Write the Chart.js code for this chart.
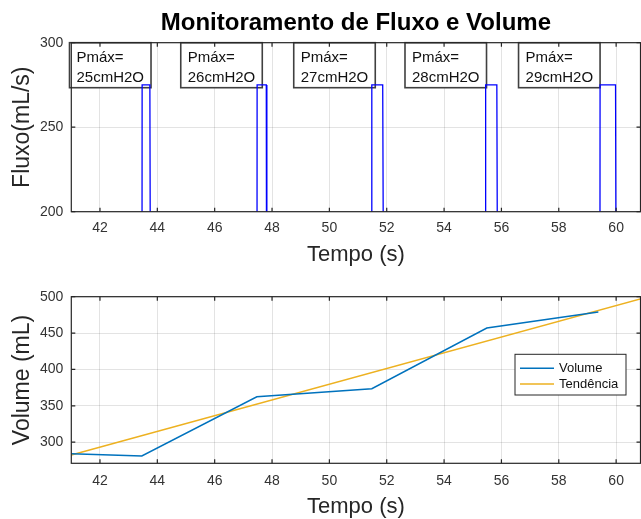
<!DOCTYPE html>
<html>
<head>
<meta charset="utf-8">
<script src="https://cdn.jsdelivr.net/npm/chart.js@4.4.0/dist/chart.umd.min.js"></script>
<style>
  body { margin: 0; background: #fff; }
  #wrap { position: relative; width: 641px; height: 519px; }
  #c1 { position: absolute; left: 0; top: 0; }
  #c2 { position: absolute; left: 0; top: 272px; }
</style>
</head>
<body>
<div id="wrap">
  <div id="c1" style="width:641px;height:272px"><canvas id="fluxo"></canvas></div>
  <div id="c2" style="width:641px;height:247px"><canvas id="volume"></canvas></div>
</div>
<script>
// dados
const flowTime  = [41, 43.46, 43.47, 43.74, 43.78, 47.47, 47.48, 47.80, 47.82, 51.47, 51.48, 51.86, 51.92, 55.44, 55.45, 55.84, 55.89, 59.43, 59.44, 59.98, 60.02, 60.85];
const flowValue = [0, 0, 275, 275, 0, 0, 275, 275, 0, 0, 275, 275, 0, 0, 275, 275, 0, 0, 275, 275, 0, 0];

const pmax   = [25, 26, 27, 28, 29];
const pmaxAt = [43.78, 47.66, 51.6, 55.48, 59.44];

const volTime  = [41, 43.46, 47.47, 51.48, 55.49, 59.38];
const volValue = [284, 281, 362.5, 373.5, 457, 479];

const trendTime  = [41, 61];
const trendValue = [282.5, 498.5];

const xTicks = [42, 44, 46, 48, 50, 52, 54, 56, 58, 60];
const flowTicks = [200, 250, 300];
const volTicks = [300, 350, 400, 450, 500];

Chart.defaults.font.family = "'Liberation Sans', Arial, sans-serif";
Chart.defaults.color = '#333';
Chart.defaults.animation = false;

const dark = '#262626';
const gridColor = 'rgba(38,38,38,0.13)';

function pts(xs, ys) {
  const out = [];
  for (let i = 0; i < xs.length; i++) out.push({x: xs[i], y: ys[i]});
  return out;
}

// caixa e marcas internas (estilo matlab)
const frame = {
  id: 'frame',
  afterDatasetsDraw(chart) {
    const {ctx, chartArea: a, scales} = chart;
    ctx.save();
    ctx.strokeStyle = dark;
    ctx.lineWidth = 1.2;
    ctx.beginPath();
    scales.x.ticks.forEach(t => {
      const px = scales.x.getPixelForValue(t.value);
      ctx.moveTo(px, a.bottom); ctx.lineTo(px, a.bottom - 4);
      ctx.moveTo(px, a.top); ctx.lineTo(px, a.top + 4);
    });
    scales.y.ticks.forEach(t => {
      const py = scales.y.getPixelForValue(t.value);
      ctx.moveTo(a.left, py); ctx.lineTo(a.left + 4, py);
      ctx.moveTo(a.right, py); ctx.lineTo(a.right - 4, py);
    });
    ctx.stroke();
    ctx.strokeRect(a.left, a.top, a.right - a.left, a.bottom - a.top);
    ctx.restore();
  }
};

const notes = {
  id: 'notes',
  beforeDatasetsDraw(chart) {
    const {ctx, scales} = chart;
    ctx.save();
    ctx.font = "15px 'Liberation Sans', Arial, sans-serif";
    ctx.textBaseline = 'middle';
    for (let i = 0; i < pmax.length; i++) {
      const l1 = 'Pmáx=';
      const l2 = pmax[i] + 'cmH2O';
      const w = Math.max(ctx.measureText(l1).width, ctx.measureText(l2).width) + 14;
      const right = scales.x.getPixelForValue(pmaxAt[i]);
      const top = scales.y.getPixelForValue(300);
      const h = 45;
      ctx.fillStyle = '#fff';
      ctx.fillRect(right - w, top, w, h);
      ctx.strokeStyle = '#404040';
      ctx.lineWidth = 1.6;
      ctx.strokeRect(right - w, top, w, h);
      ctx.fillStyle = '#111';
      ctx.fillText(l1, right - w + 7, top + 15);
      ctx.fillText(l2, right - w + 7, top + 35);
    }
    ctx.restore();
  }
};

const legendBox = {
  id: 'legendBox',
  afterDatasetsDraw(chart) {
    const {ctx, chartArea: a} = chart;
    const w = 111, h = 40.7;
    const left = a.right - 14.5 - w, top = a.top + 57.6;
    ctx.save();
    ctx.fillStyle = '#fff';
    ctx.fillRect(left, top, w, h);
    ctx.strokeStyle = dark;
    ctx.lineWidth = 1;
    ctx.strokeRect(left, top, w, h);
    ctx.font = "13px 'Liberation Sans', Arial, sans-serif";
    ctx.textBaseline = 'middle';
    chart.data.datasets.forEach((ds, i) => {
      const y = top + 14 + i * 15.7;
      ctx.strokeStyle = ds.borderColor;
      ctx.lineWidth = 1.5;
      ctx.beginPath();
      ctx.moveTo(left + 5, y); ctx.lineTo(left + 39, y);
      ctx.stroke();
      ctx.fillStyle = '#111';
      ctx.fillText(ds.label, left + 44, y);
    });
    ctx.restore();
  }
};

function xScale(h, tickPad, titlePad) {
  return {
    type: 'linear', min: 41, max: 60.85,
    afterBuildTicks: s => { s.ticks = xTicks.map(v => ({value: v})); },
    afterFit: s => { s.height = h; },
    grid: { color: gridColor, drawTicks: false },
    border: { display: false },
    ticks: { font: { size: 14 }, padding: tickPad, color: '#333' },
    title: { display: true, text: 'Tempo (s)', color: dark,
             font: { size: 22, lineHeight: 1 }, padding: { top: 0, bottom: titlePad } }
  };
}

function yScale(min, max, ticks, label) {
  return {
    min: min, max: max,
    afterBuildTicks: s => { s.ticks = ticks.map(v => ({value: v})); },
    afterFit: s => { s.width = 71.3; },
    grid: { color: gridColor, drawTicks: false },
    border: { display: false },
    ticks: { font: { size: 14 }, padding: 8, color: '#333' },
    title: { display: true, text: label, color: dark,
             font: { size: 23, lineHeight: 1 }, padding: { top: 11, bottom: 0 } }
  };
}

new Chart(document.getElementById('fluxo'), {
  type: 'line',
  data: {
    datasets: [{
      label: 'Fluxo',
      data: pts(flowTime, flowValue),
      borderColor: '#0000ff',
      borderWidth: 1.3,
      pointRadius: 0,
      tension: 0
    }]
  },
  options: {
    responsive: true,
    maintainAspectRatio: false,
    layout: { padding: { top: 0, right: 0.5, left: 0, bottom: 0 } },
    plugins: {
      legend: { display: false },
      tooltip: { enabled: false },
      title: {
        display: true,
        fullSize: false,
        text: 'Monitoramento de Fluxo e Volume',
        color: '#000',
        font: { size: 24, weight: 'bold', lineHeight: 1.2 },
        padding: { top: 9, bottom: 4.9 }
      }
    },
    scales: {
      x: xScale(60.3, 8.5, 6),
      y: yScale(200, 300, flowTicks, 'Fluxo(mL/s)')
    }
  },
  plugins: [notes, frame]
});

new Chart(document.getElementById('volume'), {
  type: 'line',
  data: {
    datasets: [{
      label: 'Volume',
      data: pts(volTime, volValue),
      borderColor: '#0072bd',
      borderWidth: 1.5,
      pointRadius: 0,
      tension: 0
    }, {
      label: 'Tendência',
      data: pts(trendTime, trendValue),
      borderColor: '#edb120',
      borderWidth: 1.5,
      pointRadius: 0,
      tension: 0
    }]
  },
  options: {
    responsive: true,
    maintainAspectRatio: false,
    layout: { padding: { top: 24.7, right: 0.5, left: 0, bottom: 0 } },
    plugins: {
      legend: { display: false },
      tooltip: { enabled: false }
    },
    scales: {
      x: xScale(55.7, 9, 1),
      y: yScale(271, 500, volTicks, 'Volume (mL)')
    }
  },
  plugins: [frame, legendBox]
});
</script>
</body>
</html>
